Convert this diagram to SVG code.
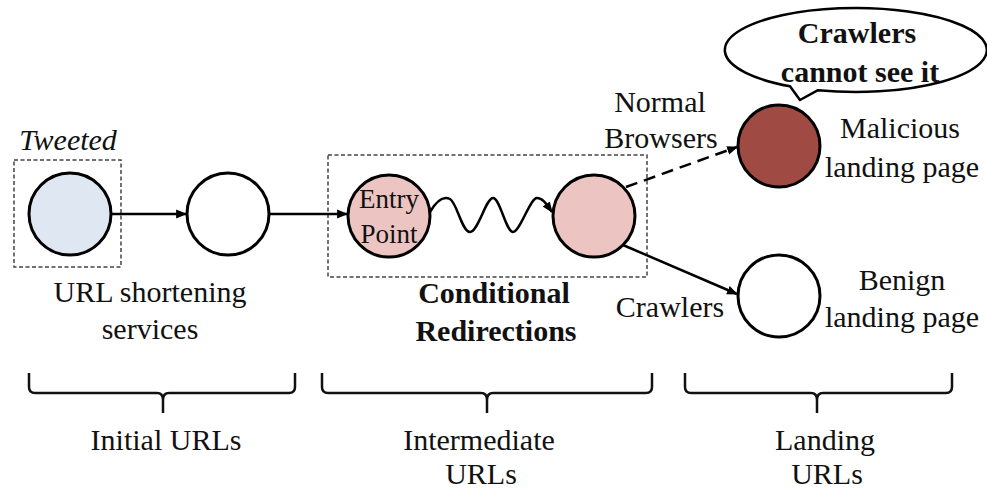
<svg xmlns="http://www.w3.org/2000/svg" width="987" height="492" viewBox="0 0 987 492">
<defs>
<style>
text{font-family:"Liberation Serif","Times New Roman",serif;font-size:30px;fill:#111;text-anchor:middle}
.b{font-weight:bold}
.it{font-style:italic}
.node{stroke:#000;stroke-width:3}
.box{fill:none;stroke:#444;stroke-width:1.5;stroke-dasharray:4 2.5}
.edge{fill:none;stroke:#000;stroke-width:2.5}
.brace{fill:none;stroke:#111;stroke-width:2.5;stroke-linejoin:round}
</style>
<marker id="ah" viewBox="0 0 10 10" refX="9" refY="5" markerWidth="4.4" markerHeight="4.4" orient="auto" markerUnits="strokeWidth">
<path d="M0,1 L10,5 L0,9 Z" fill="#000"/>
</marker>
</defs>
<rect width="987" height="492" fill="#fff"/>

<g id="tweeted-box">
<rect class="box" x="14" y="160" width="107" height="107"/>
<text class="it" x="68" y="150">Tweeted</text>
</g>
<g id="node-tweeted">
<circle class="node" cx="70" cy="214" r="41" fill="#dfe8f2"/>
</g>
<g id="node-short2">
<circle class="node" cx="228" cy="214" r="41" fill="#fff"/>
</g>
<g id="label-shortening">
<text x="150" y="302">URL shortening</text>
<text x="150" y="339">services</text>
</g>

<g id="cond-box">
<rect class="box" x="328" y="155" width="319" height="122"/>
<text class="b" x="494" y="303">Conditional</text>
<text class="b" x="496" y="341">Redirections</text>
</g>
<g id="node-entry">
<circle class="node" cx="389" cy="216" r="41" fill="#ecc5c2"/>
<text x="389" y="208" style="font-size:27px">Entry</text>
<text x="389" y="243" style="font-size:27px">Point</text>
</g>
<g id="node-cond">
<circle class="node" cx="594" cy="216" r="41" fill="#ecc5c2"/>
</g>

<g id="bubble">
<path d="M 818 90.2 A 131 42 0 1 0 790 86.3 L 800 100 Z" fill="#fff" stroke="#000" stroke-width="2.5" stroke-linejoin="round"/>
<text class="b" x="857" y="43">Crawlers</text>
<text class="b" x="860" y="82">cannot see it</text>
</g>
<g id="node-malicious">
<circle class="node" cx="779" cy="146" r="41" fill="#a04a44"/>
<text x="900" y="138">Malicious</text>
<text x="902" y="177">landing page</text>
</g>
<g id="node-benign">
<circle class="node" cx="779" cy="296" r="41" fill="#fff"/>
<text x="902" y="290">Benign</text>
<text x="902" y="327">landing page</text>
</g>

<g id="edge-labels">
<text x="660" y="112">Normal</text>
<text x="661" y="148">Browsers</text>
<text x="670" y="317">Crawlers</text>
</g>

<g id="connectors">
<line class="edge" x1="111" y1="214" x2="186" y2="214" marker-end="url(#ah)"/>
<line class="edge" x1="269" y1="214" x2="347" y2="214" marker-end="url(#ah)"/>
<path class="edge" d="M 430 212 C 437 200, 444 196, 450 199 C 457 203, 462 232, 470 232 C 478 232, 486 198, 493 198 C 500 198, 506 232, 513 232 C 520 232, 530 198, 537 198 C 543 198, 547 205, 552 212" marker-end="url(#ah)"/>
<line class="edge" x1="626" y1="187" x2="737" y2="147" stroke-dasharray="12 7" marker-end="url(#ah)"/>
<line class="edge" x1="623" y1="245" x2="737" y2="294" marker-end="url(#ah)"/>
</g>

<g id="braces">
<path class="brace" d="M 29 373 L 29 387 Q 29 393 35 393 L 157 393 Q 163 393 163 400 L 163 413 M 163 400 Q 163 393 169 393 L 289 393 Q 295 393 295 387 L 295 373"/>
<path class="brace" d="M 322 373 L 322 387 Q 322 393 328 393 L 481 393 Q 487 393 487 400 L 487 413 M 487 400 Q 487 393 493 393 L 646 393 Q 652 393 652 387 L 652 373"/>
<path class="brace" d="M 685 373 L 685 387 Q 685 393 691 393 L 811 393 Q 817 393 817 400 L 817 413 M 817 400 Q 817 393 823 393 L 946 393 Q 952 393 952 387 L 952 373"/>
<text x="166" y="450">Initial URLs</text>
<text x="479" y="450">Intermediate</text>
<text x="481" y="484">URLs</text>
<text x="825" y="450">Landing</text>
<text x="827" y="484">URLs</text>
</g>
</svg>
